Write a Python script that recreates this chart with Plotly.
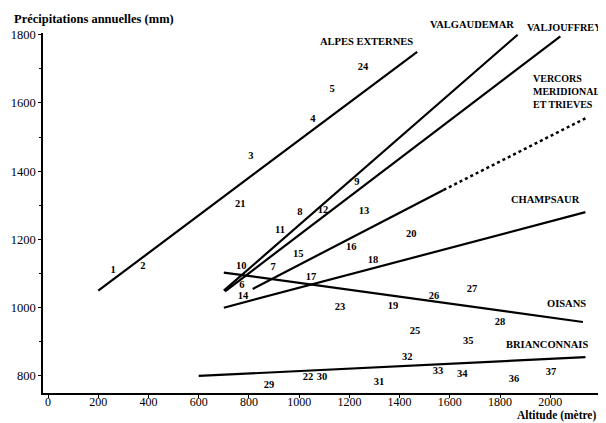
import plotly.graph_objects as go

# Station numbers and positions (altitude m, precipitation mm)
station_ids = ["1", "2", "3", "4", "5", "24", "21", "8", "11", "12", "9", "13",
               "15", "10", "7", "6", "14", "16", "18", "17", "20", "23", "19",
               "26", "27", "28", "25", "35", "32", "33", "34", "36", "37",
               "22", "30", "31", "29"]
station_alt = [259, 378, 808, 1055, 1131, 1254, 765, 1003, 924, 1095, 1230, 1258,
               996, 769, 896, 772, 776, 1207, 1294, 1047, 1446, 1163, 1374,
               1537, 1688, 1800, 1461, 1673, 1430, 1553, 1649, 1856, 2003,
               1035, 1091, 1318, 880]
station_prec = [1110, 1122, 1442, 1553, 1641, 1703, 1304, 1280, 1228, 1286, 1368, 1283,
                1157, 1122, 1119, 1064, 1034, 1178, 1140, 1090, 1216, 1002, 1005,
                1034, 1055, 958, 932, 902, 853, 814, 806, 791, 809,
                797, 797, 782, 773]

# Regression lines per region (end points)
alpes_x = [200, 1470]
alpes_y = [1050, 1750]
valgaudemar_x = [700, 1870]
valgaudemar_y = [1050, 1800]
valjouffrey_x = [705, 2040]
valjouffrey_y = [1048, 1795]
vercors_solid_x = [815, 1575]
vercors_solid_y = [1055, 1345]
vercors_dot_x = [1575, 2140]
vercors_dot_y = [1345, 1555]
champsaur_x = [700, 2140]
champsaur_y = [1000, 1280]
oisans_x = [700, 2130]
oisans_y = [1103, 958]
brianconnais_x = [600, 2140]
brianconnais_y = [800, 855]

# Region labels
region_names = ["ALPES EXTERNES", "CHAMPSAUR", "OISANS", "BRIANCONNAIS"]
region_x = [1270, 1979, 2063, 1987]
region_y = [1779, 1316, 1011, 891]

x_ticks = [0, 200, 400, 600, 800, 1000, 1200, 1400, 1600, 1800, 2000]
y_ticks = [800, 1000, 1200, 1400, 1600, 1800]

FONT = "Liberation Serif"

fig = go.Figure()

def add_line(xs, ys, dash="solid", width=2.2):
    fig.add_trace(go.Scatter(x=xs, y=ys, mode="lines",
                             line=dict(color="black", width=width, dash=dash),
                             showlegend=False, hoverinfo="skip"))

add_line(alpes_x, alpes_y)
add_line(valgaudemar_x, valgaudemar_y)
add_line(valjouffrey_x, valjouffrey_y)
add_line(vercors_solid_x, vercors_solid_y)
add_line(vercors_dot_x, vercors_dot_y, dash="dot", width=2.5)
add_line(champsaur_x, champsaur_y)
add_line(oisans_x, oisans_y)
add_line(brianconnais_x, brianconnais_y)

fig.add_trace(go.Scatter(x=station_alt, y=station_prec, mode="text",
                         text=["<b>%s</b>" % s for s in station_ids],
                         textfont=dict(family=FONT, size=10.5, color="black"),
                         showlegend=False, hoverinfo="skip", cliponaxis=False))

LBL = dict(family=FONT, size=10.5, color="black")

for name, rx, ry in zip(region_names, region_x, region_y):
    fig.add_annotation(x=rx, y=ry, text="<b>%s</b>" % name, showarrow=False,
                       font=LBL, xanchor="center", yanchor="middle")

fig.add_annotation(x=1688, y=1800, yshift=10, text="<b>VALGAUDEMAR</b>", showarrow=False,
                   font=LBL, xanchor="center", yanchor="middle")
fig.add_annotation(x=1900, y=1800, yshift=7, text="<b>VALJOUFFREY</b>", showarrow=False,
                   font=dict(family=FONT, size=10.2, color="black"),
                   xanchor="left", yanchor="middle")
fig.add_annotation(x=1925, y=1634, text="<b>VERCORS<br>MERIDIONAL<br>ET TRIEVES</b>",
                   showarrow=False, align="left",
                   font=dict(family=FONT, size=10, color="black"),
                   xanchor="left", yanchor="middle")

fig.add_annotation(xref="paper", yref="paper", x=-0.055, y=1.0, yshift=5,
                   text="<b>Précipitations annuelles (mm)</b>", showarrow=False,
                   font=dict(family=FONT, size=12.5, color="black"),
                   xanchor="left", yanchor="bottom")
fig.add_annotation(xref="paper", yref="paper", x=1.0, y=0, yshift=-31,
                   text="<b>Altitude (mètre)</b>", showarrow=False,
                   font=dict(family=FONT, size=11.5, color="black"),
                   xanchor="right", yanchor="bottom")

fig.update_xaxes(range=[-20, 2190], tickvals=x_ticks, showgrid=False, zeroline=False,
                 showline=True, linecolor="black", linewidth=1.5, automargin=False,
                 ticks="outside", ticklen=3, tickcolor="black", ticklabelstandoff=-6,
                 tickfont=dict(family=FONT, size=12, color="black"))
fig.update_yaxes(range=[750, 1805], tickvals=y_ticks, showgrid=False, zeroline=False,
                 showline=True, linecolor="black", linewidth=1.5, automargin=False,
                 ticks="outside", ticklen=3, tickcolor="black",
                 minor=dict(dtick=100, ticks="outside", ticklen=2, tickcolor="black"),
                 tickfont=dict(family=FONT, size=12.5, color="black"))

# page body adds an 8px offset, so the figure is sized to end at the window edge
fig.update_layout(width=598, height=415, autosize=False,
                  margin=dict(l=35, r=8, t=25, b=30, pad=0),
                  plot_bgcolor="white", paper_bgcolor="white")

fig.write_html("out.html")
